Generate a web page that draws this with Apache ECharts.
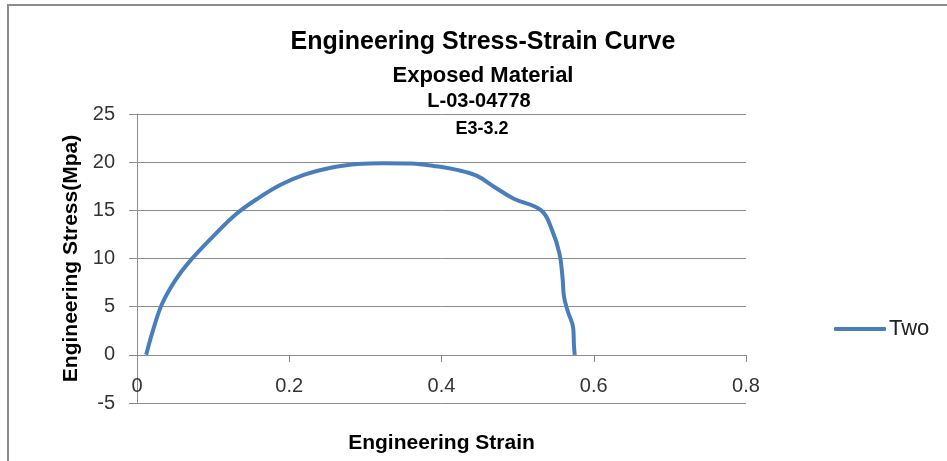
<!DOCTYPE html>
<html>
<head>
<meta charset="utf-8">
<script src="https://cdn.jsdelivr.net/npm/echarts@6/dist/echarts.min.js"></script>
<style>
  html, body { margin: 0; padding: 0; background: #fff; }
  #chart { width: 947px; height: 461px; }
</style>
</head>
<body>
<div id="chart"></div>
<script>
// strain / stress
const strain = [0.012, 0.022, 0.033, 0.05, 0.068, 0.1, 0.13, 0.16, 0.19, 0.22, 0.253, 0.29, 0.323, 0.36, 0.39, 0.42, 0.446, 0.47, 0.495, 0.531, 0.545, 0.555, 0.559, 0.561, 0.566, 0.573, 0.574, 0.575];
const stress = [0, 2.8, 5.3, 7.7, 9.6, 12.3, 14.6, 16.3, 17.7, 18.7, 19.4, 19.8, 19.9, 19.85, 19.6, 19.2, 18.6, 17.4, 16.2, 15.0, 13.0, 10.5, 8.0, 6.0, 4.5, 2.8, 1.0, 0];
const xTicks = [0, 0.2, 0.4, 0.6, 0.8];
const yTicks = [-5, 0, 5, 10, 15, 20, 25];
const titles = ['Engineering Stress-Strain Curve', 'Exposed Material', 'L-03-04778', 'E3-3.2'];

const points = strain.map((s, i) => [s, stress[i]]);
const font = 'Liberation Sans';

function titleText(text, x, y, size) {
  return {
    type: 'text', x: x, y: y, z: 10,
    style: { text: text, font: 'bold ' + size + 'px ' + font, fill: '#000', align: 'center', verticalAlign: 'top' }
  };
}

const myChart = echarts.init(document.getElementById('chart'));
const option = {
  animation: false,
  textStyle: { fontFamily: font },
  graphic: [
    { type: 'rect', shape: { x: 8, y: 5, width: 960, height: 480 },
      style: { fill: 'none', stroke: '#8c8c8c', lineWidth: 2 }, z: -10 },
    titleText(titles[0], 483, 30, 25),
    titleText(titles[1], 483, 65, 22),
    titleText(titles[2], 479, 91, 20),
    titleText(titles[3], 482, 120, 18)
  ],
  grid: { left: 137, right: 201, top: 114, bottom: 58, containLabel: false, outerBoundsMode: 'none' },
  legend: {
    data: ['Two'],
    left: 829, top: 313,
    itemWidth: 52, itemHeight: 4, itemGap: 4,
    icon: 'roundRect',
    textStyle: { fontSize: 22, color: '#222', padding: [0, 0, 0, -2] }
  },
  xAxis: {
    type: 'value', min: 0, max: 0.8, interval: 0.2,
    // axis sits on stress = 0, 48px above the grid bottom (-5)
    offset: -48,
    name: 'Engineering Strain', nameLocation: 'middle', nameGap: 78,
    nameTextStyle: { fontSize: 21, fontWeight: 'bold', color: '#000', align: 'center', verticalAlign: 'top' },
    axisLine: { onZero: false, lineStyle: { color: '#8c8c8c', width: 1 } },
    axisTick: { show: true, length: 7, lineStyle: { color: '#8c8c8c' } },
    axisLabel: { fontSize: 20, color: '#333', margin: 21,
      formatter: v => xTicks.includes(+v.toFixed(1)) ? String(+v.toFixed(1)) : '' },
    splitLine: { show: false }
  },
  yAxis: {
    type: 'value', min: -5, max: 25, interval: 5,
    name: 'Engineering Stress(Mpa)', nameLocation: 'middle', nameGap: 55,
    nameTextStyle: { fontSize: 21, fontWeight: 'bold', color: '#000' },
    axisLine: { show: true, onZero: false, lineStyle: { color: '#8c8c8c', width: 1 } },
    axisTick: { show: true, length: 8, lineStyle: { color: '#8c8c8c' } },
    axisLabel: { fontSize: 20, color: '#333', margin: 22,
      formatter: v => yTicks.includes(v) ? String(v) : '' },
    splitLine: { show: true, lineStyle: { color: '#8c8c8c', width: 1 } }
  },
  series: [{
    name: 'Two',
    type: 'line',
    data: points,
    smooth: 0.4,
    showSymbol: false,
    lineStyle: { color: '#4a7ebb', width: 4 },
    itemStyle: { color: '#4a7ebb' }
  }]
};
myChart.setOption(option);
</script>
</body>
</html>
